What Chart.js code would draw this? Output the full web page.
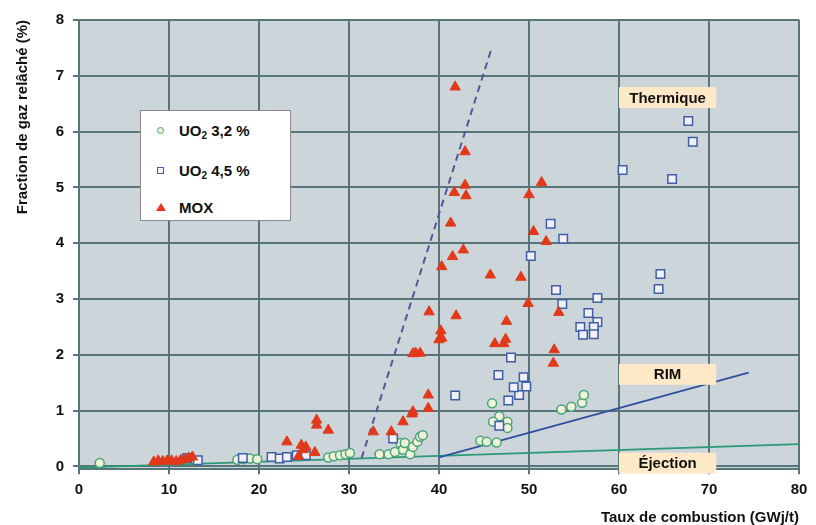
<!DOCTYPE html>
<html><head><meta charset="utf-8">
<script src="https://cdn.jsdelivr.net/npm/chart.js@4.4.1/dist/chart.umd.min.js"></script>
<style>
html,body{margin:0;padding:0;background:#fff;}
#wrap{position:relative;width:816px;height:525px;}
#legend{position:absolute;left:140px;top:110px;width:151px;height:111px;background:#fff;border:1px solid #8a8a8a;box-sizing:border-box;font:bold 15px "Liberation Sans",Arial,sans-serif;color:#111;}
.row{position:absolute;left:0;height:20px;line-height:20px;white-space:nowrap;}
.row span.t{position:absolute;left:38px;top:0;}
.mk{position:absolute;left:16px;top:6px;width:7px;height:7px;box-sizing:border-box;}
.mc{border:1.5px solid #4aa37a;border-radius:50%;background:#eef2d6;}
.ms{border:1.5px solid #3e5fa6;background:#f2f2f8;}
.mt{width:0;height:0;border-left:5px solid transparent;border-right:5px solid transparent;border-bottom:8px solid #e2391b;left:15px;top:5px;}
sub{font-size:10px;vertical-align:-3px;line-height:0;}
</style></head>
<body>
<div id="wrap">
<canvas id="c" width="816" height="525"></canvas>
<div id="legend">
 <div class="row" style="top:10px"><div class="mk mc"></div><span class="t">UO<sub>2</sub> 3,2 %</span></div>
 <div class="row" style="top:50px"><div class="mk ms"></div><span class="t">UO<sub>2</sub> 4,5 %</span></div>
 <div class="row" style="top:87px"><div class="mk mt"></div><span class="t">MOX</span></div>
</div>
</div>
<script>
// ---- data ----
const xTicks = [0,10,20,30,40,50,60,70,80];
const yTicks = [0,1,2,3,4,5,6,7,8];

const uo32X = [2.3,17.6,18.3,19.0,19.8,27.7,28.3,29.0,29.6,30.1,33.4,34.4,35.1,35.7,36.0,36.2,36.8,37.1,37.6,37.9,38.2,44.6,45.3,46.4,45.9,46.7,46.0,47.6,47.6,53.6,54.7,55.9,56.1];
const uo32Y = [0.06,0.12,0.13,0.14,0.13,0.16,0.18,0.20,0.22,0.24,0.22,0.22,0.26,0.42,0.30,0.42,0.22,0.35,0.44,0.53,0.56,0.46,0.44,0.43,1.13,0.90,0.80,0.80,0.69,1.02,1.07,1.14,1.28];

const uo45X = [12.0,13.2,18.2,21.4,22.3,23.1,24.2,25.2,34.9,41.8,46.7,47.7,48.9,49.7,48.3,49.4,46.6,48.0,50.2,52.4,53.8,53.0,53.7,57.6,56.6,57.6,55.7,56.0,57.2,57.2,60.4,65.9,67.7,68.2,64.6,64.4];
const uo45Y = [0.15,0.11,0.15,0.17,0.14,0.17,0.20,0.20,0.50,1.27,0.73,1.18,1.28,1.43,1.42,1.60,1.64,1.95,3.77,4.35,4.08,3.16,2.91,3.02,2.75,2.59,2.50,2.36,2.50,2.37,5.31,5.15,6.19,5.82,3.45,3.18];

const moxX = [8.3,8.8,9.3,9.8,10.3,10.8,11.3,11.8,12.2,12.6,23.1,24.4,24.7,24.9,25.2,26.2,26.4,26.4,27.7,32.7,34.7,36.0,37.0,37.1,38.8,38.8,37.1,37.4,37.9,38.9,41.9,40.2,40.3,40.0,40.3,41.5,42.7,41.3,41.7,42.9,43.0,42.9,41.8,45.7,49.1,49.9,47.5,46.2,47.4,47.2,50.0,50.5,51.4,51.9,53.3,52.8,52.7];
const moxY = [0.08,0.10,0.09,0.10,0.10,0.09,0.11,0.13,0.15,0.17,0.44,0.18,0.38,0.30,0.35,0.25,0.83,0.74,0.65,0.62,0.62,0.80,0.94,0.98,1.04,1.28,2.02,2.03,2.03,2.77,2.70,2.43,2.30,2.27,3.58,3.76,3.88,4.36,4.91,5.04,4.85,5.64,6.80,3.43,3.39,2.92,2.60,2.20,2.28,2.20,4.87,4.21,5.09,4.03,2.76,2.09,1.85];

const ejectionX = [0,80];
const ejectionY = [-0.02,0.40];
const rimX = [40,74.4];
const rimY = [0.16,1.68];
const thermX = [31.4,45.9];
const thermY = [0.15,7.52];

const regimeLabels = ['Thermique','RIM','Éjection'];
const regimeY = [6.61,1.65,0.06];
const regimeXFrom = 60, regimeXTo = 70.8;

const xTitle = 'Taux de combustion (GWj/t)';
const yTitle = 'Fraction de gaz relâché (%)';

// ---- build ----
const pts = (xs,ys)=>xs.map((v,i)=>({x:v,y:ys[i]}));
const FONT = '"Liberation Sans", Arial, sans-serif';
const GRID = '#587679';

const bgPlugin = {
  id:'bg',
  beforeDraw(chart){
    const {ctx, chartArea:a} = chart;
    ctx.save(); ctx.fillStyle = '#ccd5d9';
    ctx.fillRect(a.left, a.top, a.right-a.left, a.bottom-a.top);
    ctx.restore();
  }
};
const labelPlugin = {
  id:'regimes',
  afterDatasetsDraw(chart){
    const {ctx, scales:{x,y}} = chart;
    ctx.save();
    regimeLabels.forEach((t,i)=>{
      const x0 = x.getPixelForValue(regimeXFrom), x1 = x.getPixelForValue(regimeXTo);
      const yc = y.getPixelForValue(regimeY[i]);
      ctx.fillStyle = '#fde8c8';
      ctx.fillRect(x0, yc-10.5, x1-x0, 21);
      ctx.fillStyle = '#111';
      ctx.font = 'bold 15px ' + FONT;
      ctx.textAlign = 'center'; ctx.textBaseline = 'middle';
      ctx.fillText(t, (x0+x1)/2, yc+1);
    });
    ctx.restore();
  }
};

new Chart(document.getElementById('c'), {
  type:'scatter',
  data:{datasets:[
    {label:'MOX', data:pts(moxX,moxY), pointStyle:'triangle', pointRadius:6, backgroundColor:'#e2391b', borderColor:'#e2391b', borderWidth:1},
    {label:'UO2 4,5 %', data:pts(uo45X,uo45Y), pointStyle:'rect', pointRadius:6, backgroundColor:'#f0f0f6', borderColor:'#3e5fa6', borderWidth:1.5},
    {label:'UO2 3,2 %', data:pts(uo32X,uo32Y), pointStyle:'circle', pointRadius:4.5, backgroundColor:'#eef2d6', borderColor:'#4aa37a', borderWidth:1.5},
    {label:'Thermique', data:pts(thermX,thermY), showLine:true, pointRadius:0, borderColor:'#55559a', borderWidth:2, borderDash:[7,5]},
    {label:'RIM', data:pts(rimX,rimY), showLine:true, pointRadius:0, borderColor:'#2f4fa0', borderWidth:1.8},
    {label:'Éjection', data:pts(ejectionX,ejectionY), showLine:true, pointRadius:0, borderColor:'#2a9a78', borderWidth:1.8}
  ]},
  options:{
    responsive:false, animation:false, events:[],
    layout:{padding:{top:20,right:17,left:0,bottom:0}},
    plugins:{legend:{display:false}, tooltip:{enabled:false}},
    scales:{
      x:{type:'linear', min:0, max:80,
        afterBuildTicks(s){ s.ticks = xTicks.map(v=>({value:v})); },
        afterFit(s){ s.height = 55.8; },
        grid:{color:GRID, lineWidth:2, tickLength:5, tickColor:GRID},
        border:{color:GRID, width:2},
        ticks:{color:'#111', padding:7, font:{family:FONT, size:15, weight:'bold'}, maxRotation:0},
        title:{display:true, text:xTitle, align:'end', color:'#111', padding:{top:0,bottom:0}, font:{family:FONT, size:15, weight:'bold', lineHeight:1}}
      },
      y:{type:'linear', min:-0.05, max:8,
        afterBuildTicks(s){ s.ticks = yTicks.map(v=>({value:v})); },
        afterFit(s){ s.width = 79; },
        grid:{color:GRID, lineWidth:2, tickLength:6, tickColor:GRID},
        border:{color:GRID, width:2},
        ticks:{color:'#111', padding:9, font:{family:FONT, size:15, weight:'bold'}},
        title:{display:true, text:yTitle, align:'end', color:'#111', padding:{top:15,bottom:0}, font:{family:FONT, size:15, weight:'bold', lineHeight:1}}
      }
    }
  },
  plugins:[bgPlugin, labelPlugin]
});
</script>
</body></html>
